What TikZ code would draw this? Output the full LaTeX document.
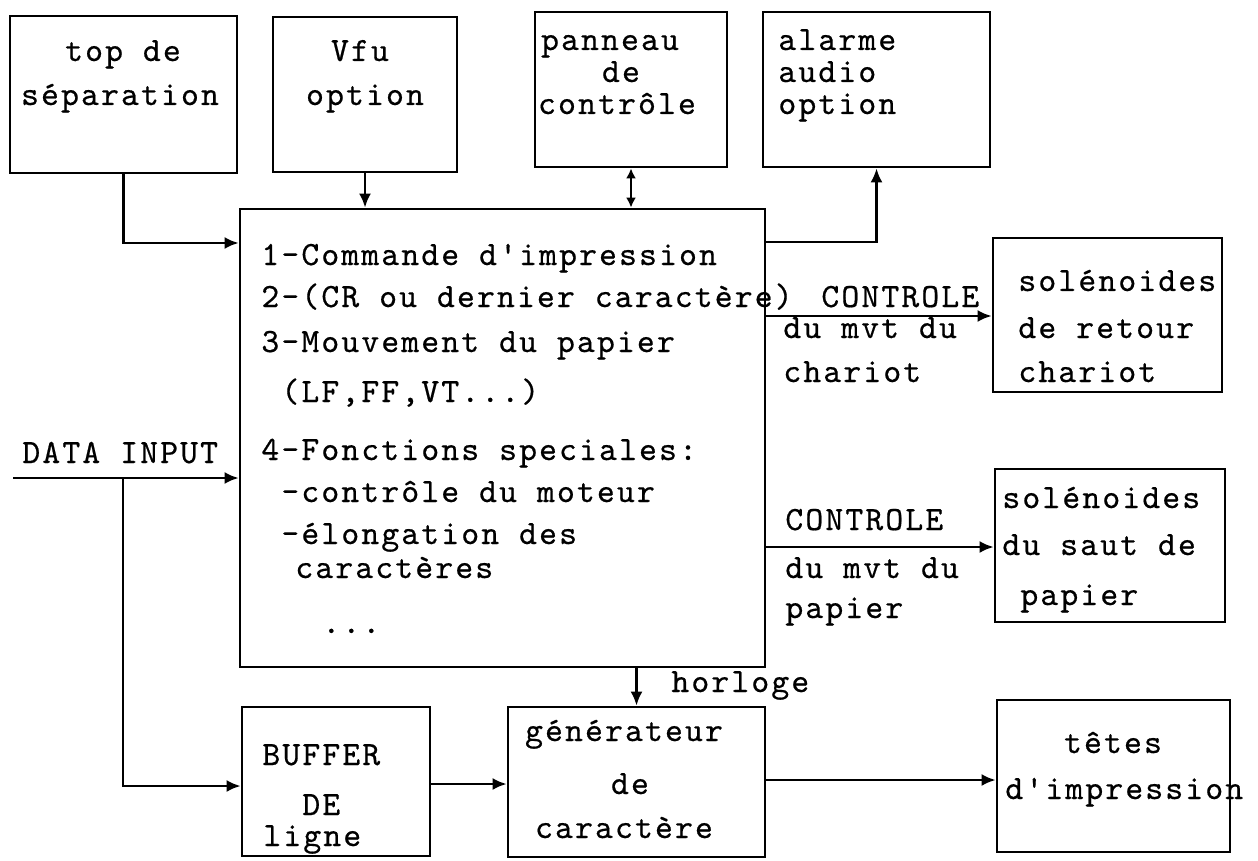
\documentclass[tikz,border=0pt]{standalone}
\usepackage{fontspec}
\usetikzlibrary{arrows.meta,fit}
\newfontfamily\twfam{lmmono10-regular}[Extension=.otf, LetterSpace=6.3, FakeBold=0.5]
\newcommand{\twfont}{\fontsize{17}{20}\selectfont\twfam}
\begin{document}
\begin{tikzpicture}[x=0.5pt,y=-0.5pt,
  box/.style={draw, line width=1.4pt, inner sep=0pt, rectangle},
  conn/.style={line width=1.2pt},
  arr/.style={conn, -{Latex[length=7pt,width=6pt]}},
  darr/.style={conn, {Latex[length=5pt,width=5pt]}-{Latex[length=5pt,width=5pt]}},
  txt/.style={font=\twfont, inner sep=0pt, anchor=base west},
  ctxt/.style={txt, anchor=base}]
\useasboundingbox (0,0) rectangle (1258,861);

% boxes
\node[box, fit={(10,16) (237,173)}] (topsep) {};
\node[box, fit={(273,17) (457,172)}] (vfu) {};
\node[box, fit={(535,12) (727,167)}] (panneau) {};
\node[box, fit={(763,12) (990,167)}] (alarme) {};
\node[box, fit={(240,209) (765,667)}] (main) {};
\node[box, fit={(993,238) (1222,392)}] (sol1) {};
\node[box, fit={(995,469) (1225,622)}] (sol2) {};
\node[box, fit={(242,707) (430,856)}] (buffer) {};
\node[box, fit={(508,707) (765,857)}] (gen) {};
\node[box, fit={(997,700) (1230,852)}] (tetes) {};

% box texts
\node[ctxt] (t1a) at (123,61) {top de};
\node[ctxt] (t1b) at (120,105) {séparation};
\node[ctxt] (t2a) at (360,61) {Vfu};
\node[ctxt] (t2b) at (365,105) {option};
\node[ctxt] (t3a) at (610,50) {panneau};
\node[ctxt] (t3b) at (621,82) {de};
\node[ctxt] (t3c) at (617,114) {contrôle};
\node[txt] (t4a) at (778,50) {alarme};
\node[txt] (t4b) at (778,82) {audio};
\node[txt] (t4c) at (778,114) {option};

\node[txt] (m1) at (261,265) {1-Commande d'impression};
\node[txt] (m2) at (261,307) {2-(CR ou dernier caractère)};
\node[txt] (m3) at (261,352) {3-Mouvement du papier};
\node[txt] (m3b) at (281,402) {(LF,FF,VT...)};
\node[txt] (m4) at (261,460) {4-Fonctions speciales:};
\node[txt] (m4a) at (281,502) {-contrôle du moteur};
\node[txt] (m4b) at (281,544) {-élongation des};
\node[txt] (m4c) at (295,578) {caractères};
\node[txt] (m5) at (322,633) {...};

\node[txt] (c1a) at (821,307) {CONTROLE};
\node[txt] (c1b) at (783,338) {du mvt du};
\node[txt] (c1c) at (783,382) {chariot};
\node[txt] (c2a) at (785,530) {CONTROLE};
\node[txt] (c2b) at (785,578) {du mvt du};
\node[txt] (c2c) at (785,618) {papier};

\node[txt] (s1a) at (1018,291) {solénoides};
\node[txt] (s1b) at (1018,338) {de retour};
\node[txt] (s1c) at (1018,382) {chariot};
\node[txt] (s2a) at (1002,508) {solénoides};
\node[txt] (s2b) at (1002,555) {du saut de};
\node[txt] (s2c) at (1020,605) {papier};

\node[txt] (din) at (22,463) {DATA INPUT};

\node[txt] (b1) at (262,765) {BUFFER};
\node[txt] (b2) at (302,815) {DE};
\node[txt] (b3) at (263,846) {ligne};

\node[ctxt] (g1) at (624,741) {générateur};
\node[ctxt] (g2) at (630,794) {de};
\node[ctxt] (g3) at (624,838) {caractère};

\node[txt] (hl) at (671,692) {horloge};

\node[ctxt] (tt1) at (1113,753) {têtes};
\node[txt] (tt2) at (1005,799) {d'impression};

% connectors
\coordinate (dstart) at (13,478);
\coordinate (djoin) at (123,478);
\draw[arr] (topsep.south) |- (main.west |- 0,243);
\draw[arr] (vfu.south) -- (vfu.south |- main.north);
\draw[darr] (panneau.south) -- (panneau.south |- main.north);
\draw[arr] (main.east |- 0,242) -| (alarme.south);
\draw[arr] (main.east |- 0,316) -- (sol1.west |- 0,316);
\draw[arr] (main.east |- 0,547) -- (sol2.west |- 0,547);
\draw[arr] (dstart) -- (main.west |- dstart);
\draw[arr] (djoin) |- (buffer.west |- 0,786);
\draw[arr] (buffer.east |- 0,784) -- (gen.west |- 0,784);
\draw[arr] (gen.north |- main.south) -- (gen.north);
\draw[arr] (gen.east |- 0,780) -- (tetes.west |- 0,780);
\end{tikzpicture}
\end{document}
